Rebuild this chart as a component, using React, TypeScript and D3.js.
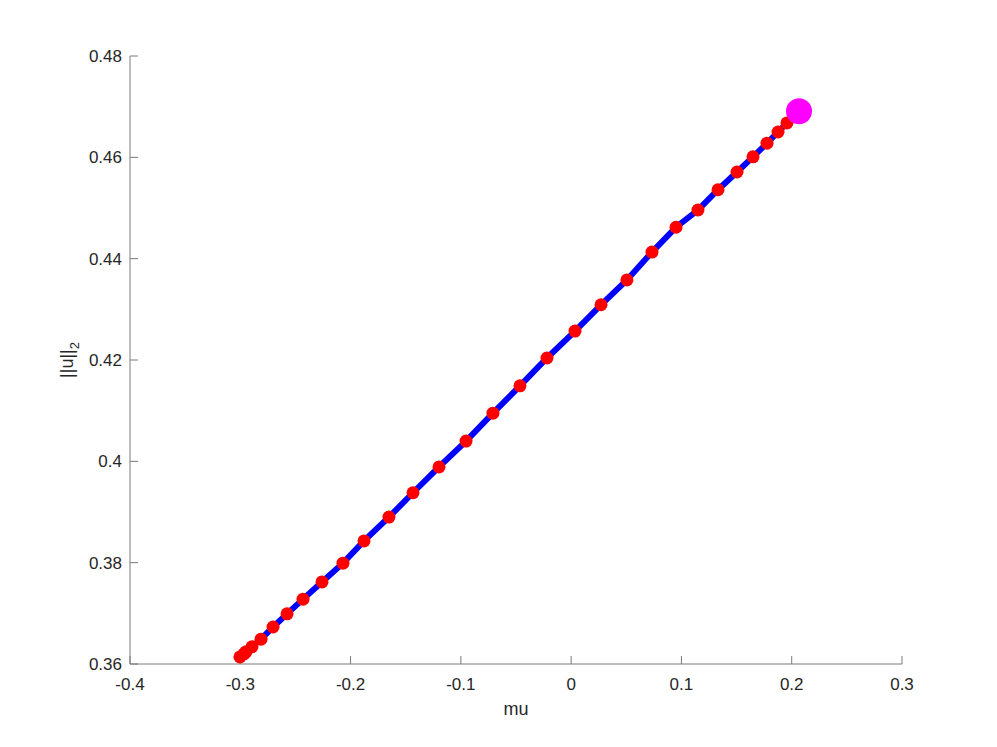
import React from 'react';
import * as d3 from 'd3';

// continuation path
const muValues = [
  -0.3003, -0.2966, -0.2948, -0.2894, -0.2812, -0.2703, -0.2576, -0.2431, -0.2259, -0.2069,
  -0.1878, -0.1652, -0.1434, -0.1198, -0.0953, -0.0709, -0.0464, -0.0219, 0.0035, 0.0271,
  0.0506, 0.0733, 0.0951, 0.115, 0.1332, 0.1504, 0.1649, 0.1776, 0.1876, 0.1957,
];
const normValues = [
  0.3614, 0.362, 0.3624, 0.3634, 0.3649, 0.3673, 0.3699, 0.3728, 0.3762, 0.3799,
  0.3843, 0.389, 0.3938, 0.3989, 0.404, 0.4095, 0.4149, 0.4204, 0.4257, 0.4309,
  0.4358, 0.4413, 0.4462, 0.4496, 0.4536, 0.4571, 0.4601, 0.4628, 0.465, 0.4668,
];
// end point (magenta)
const endMu = 0.2066;
const endNorm = 0.4691;

const xTicks = [-0.4, -0.3, -0.2, -0.1, 0, 0.1, 0.2, 0.3];
const yTicks = [0.36, 0.38, 0.4, 0.42, 0.44, 0.46, 0.48];

const W = 997;
const H = 747;
const left = 130, right = 902, top = 56, bottom = 664;
const textColor = '#262626';
const lineColor = '#7a7a7a';
const font = '"Liberation Sans", Arial, sans-serif';

const fmt = (v: number) => String(+v.toFixed(2));

const App = () => {
  const x = d3.scaleLinear().domain([-0.4, 0.3]).range([left, right]);
  const y = d3.scaleLinear().domain([0.36, 0.48]).range([bottom, top]);

  const pts = muValues.map((m, i) => [m, normValues[i]] as [number, number]);
  const allPts = [...pts, [endMu, endNorm] as [number, number]];
  const line = d3.line<[number, number]>().x(d => x(d[0])).y(d => y(d[1]));

  return (
    <svg width={W} height={H} style={{ position: 'absolute', left: 0, top: 0, background: '#fff' }}
      fontFamily={font}>
      <rect x={0} y={0} width={W} height={H} fill="#fff" />
      {/* axes */}
      <line x1={left} x2={right} y1={bottom} y2={bottom} stroke={lineColor} strokeWidth={1} />
      <line x1={left} x2={left} y1={top} y2={bottom} stroke={lineColor} strokeWidth={1} />
      {xTicks.map(t => (
        <g key={'x' + t}>
          <line x1={x(t)} x2={x(t)} y1={bottom} y2={bottom - 8} stroke={lineColor} />
          <text x={x(t)} y={bottom + 26} textAnchor="middle" fontSize={17} fill={textColor}>{fmt(t)}</text>
        </g>
      ))}
      {yTicks.map(t => (
        <g key={'y' + t}>
          <line x1={left} x2={left + 8} y1={y(t)} y2={y(t)} stroke={lineColor} />
          <text x={left - 8} y={y(t) + 6} textAnchor="end" fontSize={17} fill={textColor}>{fmt(t)}</text>
        </g>
      ))}
      <text x={(left + right) / 2} y={bottom + 51} textAnchor="middle" fontSize={18} fill={textColor}>mu</text>
      <text transform={`translate(73,${(top + bottom) / 2}) rotate(-90)`} textAnchor="middle" fontSize={18} fill={textColor}>
        ||u||<tspan fontSize={13} dy={6}>2</tspan>
      </text>
      {/* data */}
      <path d={line(allPts) || ''} fill="none" stroke="#0000ff" strokeWidth={6} />
      {pts.map((p, i) => (
        <circle key={i} cx={x(p[0])} cy={y(p[1])} r={6.5} fill="#ff0000" />
      ))}
      <circle cx={x(endMu)} cy={y(endNorm)} r={13} fill="#ff00ff" />
    </svg>
  );
};

export default App;
